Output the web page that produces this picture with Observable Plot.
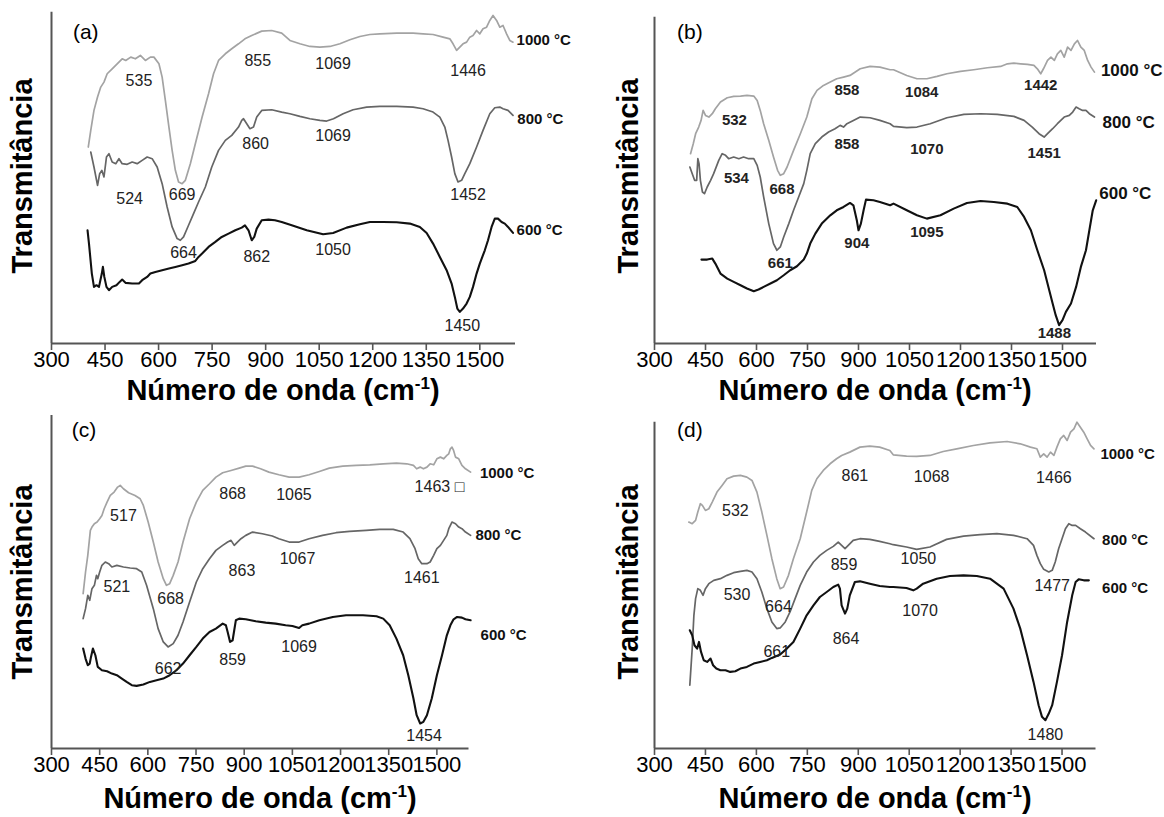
<!DOCTYPE html>
<html><head><meta charset="utf-8">
<script src="https://cdn.jsdelivr.net/npm/d3@7"></script>
<script src="https://cdn.jsdelivr.net/npm/@observablehq/plot@0.6"></script>
<style>
body{margin:0;background:#fff;}
#fig{position:relative;width:1164px;height:817px;font-family:Arial,"Liberation Sans",sans-serif;overflow:hidden;background:#fff;}
.panel{position:absolute;}
.xt{position:absolute;font-weight:bold;font-size:29px;line-height:29px;text-align:center;white-space:nowrap;color:#000;width:500px;}
.xt sup{font-size:17px;line-height:0;vertical-align:11px;}
.yt{position:absolute;font-weight:bold;font-size:29px;line-height:29px;white-space:nowrap;color:#000;transform:translate(-50%,-50%) rotate(-90deg);}
</style></head>
<body>
<div id="fig"></div>
<script>
const wavenumberTicks = [300,450,600,750,900,1050,1200,1350,1500];
const xTitle = "Número de onda (cm";
const xTitleSup = "-1";
const yTitle = "Transmitância";

// ---------- Panel (a) ----------
const a1000 = [[403,59],[410,64],[419,70],[429,74],[438,77],[447,78.5],[456,81],[470,82.5],[484,84],[498,85.5],[508,85],[522,86],[535,85.5],[549,86.5],[563,85],[577,86],[587,86],[601,84],[610,80],[619,73],[629,65],[638,58],[647,52],[656,48.5],[666,48],[675,49],[689,54],[703,60],[722,68],[740,75],[754,81],[768,85],[787,87],[805,88.5],[824,90],[842,91.5],[861,92.5],[889,93.8],[917,94],[945,93.2],[968,91],[996,90],[1024,89.2],[1052,89],[1080,89.2],[1108,90],[1136,91.2],[1164,92.2],[1192,92.8],[1220,93],[1267,93.2],[1313,93.2],[1341,93],[1369,92.8],[1397,92],[1416,91.5],[1425,90],[1435,88],[1444,89],[1453,90],[1463,90.5],[1472,92],[1481,92.5],[1491,94],[1500,93],[1509,94.5],[1519,95],[1528,97],[1537,98.5],[1547,97],[1556,95],[1565,95.5],[1575,93],[1584,91],[1593,90.5]];
const a800 = [[410,57.5],[419,53],[429,47.5],[435,51],[441,52],[447,50],[454,56],[461,57],[470,54.5],[480,54],[489,55.5],[498,54],[512,53.8],[526,54.5],[540,54],[554,55],[568,56],[582,55.5],[596,53],[610,48],[624,41],[638,35],[652,31.5],[661,31],[670,32],[684,35.5],[698,39],[712,42.5],[731,47],[749,53],[768,58],[787,61],[805,62.5],[824,65],[833,67],[838,67.5],[847,66],[856,64.5],[866,65],[875,68],[889,70],[917,70.2],[945,69.5],[968,69],[996,68.2],[1024,67.5],[1052,67],[1071,66.8],[1090,67.5],[1117,69],[1145,70.2],[1183,71],[1220,71.2],[1267,71.2],[1313,71],[1341,70.5],[1369,69.5],[1388,68],[1402,65],[1411,61],[1421,56],[1430,51],[1439,48.5],[1449,49],[1458,51],[1472,54],[1491,59],[1509,64],[1528,69],[1542,70.8],[1556,71],[1565,70.5],[1579,70],[1593,68.5]];
const a600 = [[401,34],[405,30],[413,21],[419,17],[426,17.5],[433,17],[441,21],[444,23],[448,20],[454,17],[461,16],[470,17],[482,17.5],[491,18.5],[498,19.2],[508,18.2],[526,18],[545,18],[554,19],[568,20],[577,21],[591,21.5],[610,22],[629,22.5],[647,23],[666,23.5],[684,24],[703,24.8],[712,26],[722,27],[740,29],[759,30.5],[777,32],[796,33],[815,34],[833,34.8],[842,35.5],[852,34],[861,31],[868,32],[875,34.5],[889,37],[908,37.2],[926,37],[945,36.5],[973,35.5],[1015,34],[1061,32.8],[1089,33.2],[1127,34.8],[1164,35.8],[1192,36.5],[1229,36.5],[1267,36.4],[1304,36],[1332,35],[1351,33.2],[1369,30],[1388,26],[1407,22],[1421,18],[1430,14],[1437,10.5],[1444,9.5],[1453,10.5],[1463,12],[1472,14],[1481,17],[1491,21],[1500,24],[1514,28],[1523,31],[1533,35],[1542,37.5],[1551,37.5],[1561,36.5],[1570,36],[1579,35],[1593,33.2]];
const aPeaks = [["535",545,78.8],["855",878,85],["1069",1089,84],["1446",1467,81.8],["860",872,59.8],["1069",1089,62.2],["1452",1467,44.5],["524",519,43.5],["669",666,44.5],["664",670,27.2],["862",875,26],["1050",1089,28],["1450",1451,5.2]];
const aTemps = [["1000 °C",1603,91.2],["800 °C",1605,67.5],["600 °C",1603,34]];
const aTag = ["(a)",396,93.5];

// ---------- Panel (b) ----------
const b1000 = [[406,57],[414,60],[421,63],[430,65],[437,67],[443,70],[450,68.5],[460,68],[470,69],[479,70.5],[494,72.5],[514,73.8],[533,74.2],[553,74.3],[572,74.5],[592,74.3],[602,73],[611,70],[621,66],[636,61],[650,56],[662,52],[670,50.5],[680,51],[690,53],[709,58],[729,63],[748,68],[763,73.5],[778,76],[797,77.5],[817,78.5],[836,79.5],[856,80],[875,80.5],[905,82.5],[934,83.2],[963,83],[993,82.2],[1003,82.2],[1042,80.5],[1072,79.5],[1101,79.5],[1131,80.2],[1160,81],[1200,81.7],[1239,82.2],[1279,82.8],[1318,83.2],[1338,84],[1357,84.2],[1377,84],[1397,83.8],[1416,83.5],[1426,82.5],[1436,81],[1444,82.5],[1456,85],[1466,86],[1476,85],[1485,87],[1495,88],[1505,86],[1515,89],[1525,88],[1535,90],[1544,91],[1554,89],[1564,88],[1574,85],[1584,83],[1594,81.5]];
const b800 = [[404,53],[411,51],[418,49],[424,49],[427.5,55.5],[431,54],[435,49],[441,45.5],[447,45],[455,47],[465,49],[474,51],[489,55],[499,57],[509,56.5],[518,55.5],[533,56],[548,55.5],[562,56],[577,55.5],[592,55.5],[602,53.5],[611,50],[621,44],[636,36],[650,30],[660,28],[670,29],[680,32],[695,36],[709,40],[724,44],[739,48],[748,52],[758,57],[773,60],[792,62],[812,63.5],[831,64.5],[846,65.5],[856,65],[866,66],[885,67],[905,68],[934,67.8],[963,67],[993,66],[1003,65.2],[1042,64.8],[1072,65],[1111,66],[1160,67.8],[1210,68.8],[1259,69],[1308,68.8],[1357,68.2],[1387,67],[1411,65],[1431,63],[1446,62],[1456,63],[1471,64.5],[1485,66],[1495,67],[1505,68],[1520,68.5],[1530,69.5],[1540,71],[1549,70.5],[1559,70],[1569,70],[1579,69],[1594,68]];
const b600 = [[438,25.2],[455,25.2],[470,25.5],[479,24],[494,21],[514,19.5],[533,18.5],[553,17.5],[572,16.5],[592,15.7],[606,16.2],[621,17],[641,18],[660,19],[680,20.5],[699,22],[719,23.2],[739,25.2],[748,27],[758,30],[773,33],[792,36],[817,38.5],[836,40],[856,41],[875,42.2],[885,41.5],[895,37],[900,34],[907,36],[915,40],[922,43.2],[944,43],[963,42.5],[993,41.5],[1003,42],[1042,40],[1072,38.5],[1101,37.5],[1141,38.5],[1180,40.5],[1219,42.2],[1259,42.8],[1298,42.5],[1338,42],[1367,41],[1387,38],[1407,34],[1426,28],[1446,22],[1461,16],[1471,12],[1480,8.5],[1490,5.5],[1500,7],[1510,9.5],[1525,12],[1540,17],[1554,23],[1569,28],[1579,34],[1589,40],[1599,43]];
const bPeaks = [["532",535,67],["858",866,76.2],["1084",1086,75.5],["1442",1436,77.5],["534",541,49.5],["668",675,46.2],["858",866,60],["1070",1101,58.5],["1451",1446,57.2],["661",670,24],["904",895,30.2],["1095",1101,33.5],["1488",1476,3.2]];
const bTemps = [["1000 °C",1613,82],["800 °C",1618,66.5],["600 °C",1608,45]];
const bTag = ["(b)",404,93.5];

// ---------- Panel (c) ----------
const c1000 = [[398.5,46.5],[406,53],[413,58],[421,65.5],[426,66.5],[433.5,67.5],[442,68],[450,69],[457,70],[464,72],[473,74],[483,76],[495,77],[506,78.5],[514,79],[524,78],[540,76.8],[560,76],[576,75],[586,73],[601,68],[617,62],[632,56],[648,51],[658,49],[668,49.5],[679,52],[694,56],[709.5,62],[730,69],[751,74],[771,77.5],[792,79.5],[812,81.5],[833,82.8],[859,83.5],[884.5,84.2],[905,84.8],[926,84.8],[951,84],[977,83],[1008,82.2],[1040,81.5],[1071,81.5],[1102,82.2],[1134,83.2],[1165,84.2],[1207,84.8],[1249,85],[1291,85.2],[1333,85.5],[1374,85.7],[1406,85.5],[1427,85],[1437,84],[1448,84.5],[1458,84],[1469,84.5],[1479,85.5],[1490,85.2],[1500,87],[1511,87.5],[1521,87],[1531,88],[1537,88.5],[1542,90],[1547,90.5],[1552,89.5],[1558,87.5],[1568,87],[1578,85],[1589,84],[1605,83]];
const c800 = [[398.5,39],[406,42],[413,46],[419,44.5],[426,48],[433.5,49],[440,52],[444,51],[450,53],[457,55],[467.5,56],[478,55.5],[488,54.5],[503.5,55],[524,54.5],[545,54.2],[565,54],[581,53],[596,49],[617,42],[632,36],[648,32],[663,30.5],[679,31.5],[694,34],[709.5,38],[730,44],[751,50],[771,54],[792,57],[812,59.5],[833,61],[848.5,62],[859,62.5],[869,61],[879,62],[890,63],[905,64],[926,65],[956.5,64.5],[987.5,63.8],[1008,63],[1040,62],[1071,62],[1102,63],[1144,64],[1186,64.8],[1228,65.2],[1280,65.5],[1322,65.8],[1364,65.8],[1395,65],[1416,63],[1432,60],[1442,57],[1453,55.5],[1469,55.5],[1479,56],[1490,58],[1500,60],[1511,61],[1521,62.5],[1531,64],[1537,66],[1542,67],[1547,68],[1558,67.5],[1568,66.5],[1578,66],[1589,65],[1605,64]];
const c600 = [[398.5,30],[406,27],[413,25],[419,25.5],[423,27.5],[429,30],[436.6,28],[444,24.5],[457,23.5],[473,23.2],[488,22.5],[503.5,22],[519,21],[534,20],[550,19],[565,18.8],[586,19.2],[606.5,20],[627,20.5],[648,21],[668,22],[689,23.5],[709.5,25.5],[730,28],[751,30.5],[771,33],[792,35],[812,36],[833,37.5],[843,37],[848.5,35],[856,32],[864,32.5],[869,35.5],[874,38.5],[884.5,39],[905,38.8],[936,38.2],[967,37.8],[998,37.5],[1029,37],[1050,36.8],[1071,36.2],[1081,37],[1102,37.5],[1134,38.5],[1176,39.5],[1217,40],[1270,40],[1312,39.7],[1333,39],[1353,37],[1374,33],[1395,28],[1411,22],[1427,15],[1437,10],[1448,7.5],[1458,8],[1469,10],[1484,15],[1500,22],[1516,28],[1531,34],[1542,37],[1552,38.8],[1563,39.5],[1578,39.3],[1589,38.8],[1605,38.5]];
const cPeaks = [["517",524,70],["868",864,76.5],["1065",1055,76.2],["1463 □",1508,78.7],["521",503.5,48.5],["668",671,45],["863",893,53.2],["1067",1066,56.8],["1461",1453,51.2],["662",663,24],["859",864,26.5],["1069",1071,30.5],["1454",1460,3.8]];
const cTemps = [["1000 °C",1634,82.8],["800 °C",1620,64],["600 °C",1636,34]];
const cTag = ["(c)",401,95.5];

// ---------- Panel (d) ----------
const d1000 = [[401,68],[411,67.5],[421,68.5],[427.5,71],[435,73.5],[441,73],[450,71.5],[460,72],[470,74],[484,77],[499,79],[513.5,81],[533,81.8],[553,82],[572,81.5],[587,80.5],[601.6,77],[616,71],[631,64],[645.6,57],[660,51],[670,48],[680,48.5],[694.5,52],[709,57],[729,63],[748,71],[763,77.5],[778,81],[797,83.5],[817,85.5],[836,87],[851,88],[875,89],[905,90.5],[934,90.8],[963,90.5],[993,89.5],[1003,88.2],[1042,87.8],[1072,87.7],[1111,88],[1150,89.2],[1190,90],[1239,91],[1288,91.8],[1338,92.2],[1377,91.5],[1407,90.5],[1426,90],[1436,87.5],[1446,88.5],[1456,87.5],[1466,89],[1476,88],[1485,90.5],[1495,93],[1505,94],[1515,92.5],[1525,95],[1535,96],[1544,98],[1554,96.5],[1564,95],[1574,93],[1584,91],[1594,90]];
const d800 = [[404,19],[411,30],[416,40],[421,45],[427.5,48],[435,47.5],[443,46],[450,48],[460,49.5],[474.5,50.5],[494,51],[513.5,52],[533,52.8],[553,53.2],[572,53.5],[587,53],[601.6,51],[616,47],[631,42],[645.6,38],[660,36],[670,36.2],[685,38],[699,41],[714,45],[729,49],[748,53],[768,56],[787,58],[807,59.5],[826.5,60.7],[841,62],[851,61],[861,60],[870.5,61],[885,62.5],[905,63],[934,62.8],[963,62.2],[993,61.5],[1003,61.2],[1042,60.5],[1072,59.8],[1111,60.5],[1160,62.8],[1210,63.8],[1259,64.2],[1308,64.5],[1357,64],[1397,63],[1416,61],[1426,58],[1436,55.5],[1446,53.8],[1461,53],[1471,53.5],[1480,56],[1490,60],[1500,63],[1510,66],[1520,67.5],[1530,67],[1540,67],[1554,66],[1569,65],[1594,63]];
const d600 = [[404,35.5],[411,34],[417.7,31],[425.5,30],[431,32],[437,29],[445,26.5],[455,26],[465,27],[472.5,25],[482,24],[494,23.5],[509,23.5],[523,23],[538,23.2],[553,24],[572,24.5],[592,25.5],[611,26],[631,26.5],[645.6,27.2],[670,28.2],[689.6,30],[709,32],[729,36],[748,40],[768,43],[787,45.5],[807,47],[826.5,48.5],[841,49.2],[846,48],[851,43],[861,40.5],[867.6,42],[875,46],[890,50],[905,50.2],[934,49.5],[963,48.8],[993,48.5],[1003,48.5],[1042,48.2],[1062,47.5],[1072,48],[1091,49.5],[1131,51],[1170,51.8],[1210,52],[1249,51.8],[1288,51],[1328,48],[1357,42],[1377,36],[1397,28],[1416,20],[1431,13],[1441,9.5],[1451,8.5],[1461,10.5],[1471,13],[1485,20],[1500,28],[1515,38],[1530,46],[1540,50],[1549,50.8],[1564,50.5],[1579,50.5]];
const dPeaks = [["532",538,71.5],["861",890,82],["1068",1116,81.5],["1466",1476,81.2],["530",543,46],["664",665,42.5],["859",858,55],["1050",1077,56.8],["1477",1471,48.8],["661",660,29],["864",864,32.8],["1070",1082,41.2],["1480",1451,4]];
const dTemps = [["1000 °C",1613,88.5],["800 °C",1618,62.5],["600 °C",1618,48]];
const dTag = ["(d)",404,95.5];

const fig = document.getElementById("fig");

function makePanel(cfg) {
  const svg = Plot.plot({
    width: 582, height: cfg.h,
    marginLeft: cfg.ml, marginRight: cfg.mr, marginTop: cfg.mt, marginBottom: cfg.mb,
    style: {fontFamily: "Arial, 'Liberation Sans', sans-serif", background: "transparent", overflow: "visible"},
    x: {domain: [300, 1600]},
    y: {domain: [0, 100], axis: null},
    marks: [
      Plot.line(cfg.s1000, {x: d => d[0], y: d => d[1], stroke: "#a3a3a3", strokeWidth: 1.7, strokeLinejoin: "round"}),
      Plot.line(cfg.s800, {x: d => d[0], y: d => d[1], stroke: "#666666", strokeWidth: 1.7, strokeLinejoin: "round"}),
      Plot.line(cfg.s600, {x: d => d[0], y: d => d[1], stroke: "#111111", strokeWidth: 2.1, strokeLinejoin: "round"}),
      Plot.ruleY([0], {stroke: "#555", strokeWidth: 2}),
      Plot.ruleX([300], {y1: 0, y2: cfg.top, stroke: "#555", strokeWidth: 2}),
      Plot.axisX({ticks: wavenumberTicks, tickSize: 7, tickPadding: 1, fontSize: 22, stroke: "#555", strokeWidth: 1.6, fill: "#000", label: null, tickFormat: d => String(d)}),
      Plot.text(cfg.peaks, {x: d => d[1], y: d => d[2], text: d => d[0], fontSize: cfg.peakSize, fontWeight: cfg.peakWeight, fill: "#222"}),
      Plot.text(cfg.temps, {x: d => d[1], y: d => d[2], text: d => d[0], textAnchor: "start", fontSize: cfg.tempSize, fontWeight: "bold", fill: "#111"}),
      Plot.text([cfg.tag], {x: d => d[1], y: d => d[2], text: d => d[0], fontSize: 21, fill: "#000"})
    ]
  });
  const div = document.createElement("div");
  div.className = "panel";
  div.style.left = cfg.left + "px";
  div.style.top = cfg.topPx + "px";
  div.appendChild(svg);
  fig.appendChild(div);

  const xt = document.createElement("div");
  xt.className = "xt";
  xt.style.left = (cfg.titleX - 250) + "px";
  xt.style.top = cfg.titleY + "px";
  xt.innerHTML = xTitle + "<sup>" + xTitleSup + "</sup>)";
  fig.appendChild(xt);

  const yt = document.createElement("div");
  yt.className = "yt";
  yt.style.left = cfg.yLabX + "px";
  yt.style.top = cfg.yLabY + "px";
  yt.textContent = yTitle;
  fig.appendChild(yt);
}

makePanel({s1000: a1000, s800: a800, s600: a600, peaks: aPeaks, temps: aTemps, tag: aTag,
  left: 0, topPx: 0, h: 408, ml: 51, mr: 67, mt: 10, mb: 65, top: 99.5,
  peakSize: 16, peakWeight: "normal", tempSize: 15, titleX: 283, titleY: 376, yLabX: 22, yLabY: 176});
makePanel({s1000: b1000, s800: b800, s600: b600, peaks: bPeaks, temps: bTemps, tag: bTag,
  left: 582, topPx: 0, h: 408, ml: 72, mr: 68, mt: 10, mb: 65, top: 98,
  peakSize: 15, peakWeight: "bold", tempSize: 17, titleX: 875, titleY: 376, yLabX: 628, yLabY: 176});
makePanel({s1000: c1000, s800: c800, s600: c600, peaks: cPeaks, temps: cTemps, tag: cTag,
  left: 0, topPx: 408, h: 409, ml: 51, mr: 113.5, mt: 7, mb: 69, top: 100,
  peakSize: 16, peakWeight: "normal", tempSize: 15, titleX: 260, titleY: 784, yLabX: 22, yLabY: 582});
makePanel({s1000: d1000, s800: d800, s600: d600, peaks: dPeaks, temps: dTemps, tag: dTag,
  left: 582, topPx: 408, h: 409, ml: 72, mr: 68.5, mt: 7, mb: 69, top: 98,
  peakSize: 16, peakWeight: "normal", tempSize: 15, titleX: 875, titleY: 784, yLabX: 628, yLabY: 582});
</script>
</body></html>
